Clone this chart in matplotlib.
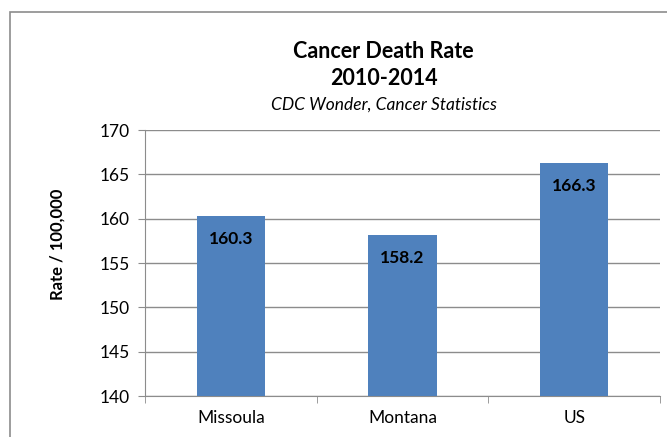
import matplotlib.pyplot as plt
from matplotlib.patches import Rectangle

plt.rcParams['font.family'] = ['Lato', 'DejaVu Sans']

# data
places = ['Missoula', 'Montana', 'US']
rates = [160.3, 158.2, 166.3]
yticks = [140, 145, 150, 155, 160, 165, 170]

fig = plt.figure(figsize=(6.67, 4.37), dpi=100)
ax = fig.add_axes([0.2174, 0.0938, 0.7721, 0.6087])

x = range(len(places))
ax.bar(x, rates, width=0.4, color='#4F81BD', zorder=3)
for i, v in enumerate(rates):
    ax.text(i, v - 2.6, f'{v:.1f}', ha='center', va='center',
            fontsize=12.5, fontweight='bold', zorder=4)

ax.set_xlim(-0.5, 2.5)
ax.set_ylim(140, 170)
ax.set_yticks(yticks)
ax.set_xticks(list(x))
ax.set_xticklabels(places)
ax.set_xticks([-0.5, 0.5, 1.5, 2.5], minor=True)
ax.tick_params(axis='x', which='major', length=0, pad=10, labelsize=12.5)
ax.tick_params(axis='x', which='minor', length=5, color='#8c8c8c')
ax.tick_params(axis='y', length=5, color='#8c8c8c', labelsize=12.5, pad=6)
ax.grid(axis='y', color='#8c8c8c', linewidth=1, zorder=0)

for s in ['top', 'right']:
    ax.spines[s].set_visible(False)
for s in ['left', 'bottom']:
    ax.spines[s].set_color('#8c8c8c')

ax.set_ylabel('Rate / 100,000', fontsize=12, fontweight='bold')
ax.yaxis.set_label_coords(-0.155, 0.571)

fig.text(0.575, 0.882, 'Cancer Death Rate', ha='center', va='center',
         fontsize=15.5, fontweight='bold')
fig.text(0.575, 0.820, '2010-2014', ha='center', va='center',
         fontsize=15.5, fontweight='bold')
fig.text(0.575, 0.760, 'CDC Wonder, Cancer Statistics', ha='center',
         va='center', fontsize=12.5, style='italic')

# chart border
fig.patches.append(Rectangle((10 / 667, -0.1), 1.1, 1.1 - 12 / 437,
                             transform=fig.transFigure, fill=False,
                             edgecolor='#8c8c8c', linewidth=1.2))

fig.savefig('out.png', dpi=100)
